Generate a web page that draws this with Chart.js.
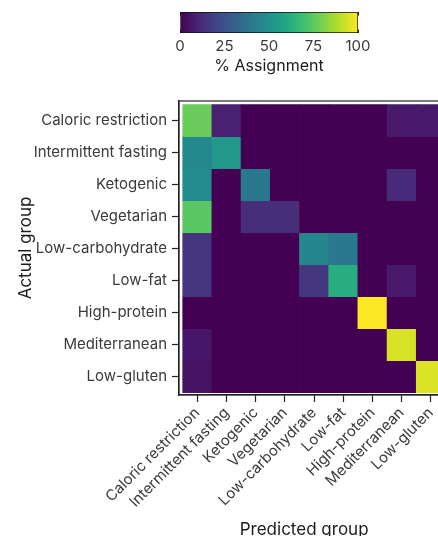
<!DOCTYPE html>
<html>
<head>
<meta charset="utf-8">
<script src="https://cdn.jsdelivr.net/npm/chart.js@4.4.1/dist/chart.umd.min.js"></script>
<style>
  html, body { margin: 0; padding: 0; background: #fff; }
  body { width: 438px; height: 536px; overflow: hidden; position: relative; }
  canvas { position: absolute; left: 0; top: 0; }
</style>
</head>
<body>
<canvas id="heatmap" width="470" height="550"></canvas>
<canvas id="colorbar" width="438" height="80"></canvas>
<script>
// diet groups, same order on both axes
const dietGroups = ['Caloric restriction', 'Intermittent fasting', 'Ketogenic', 'Vegetarian',
  'Low-carbohydrate', 'Low-fat', 'High-protein', 'Mediterranean', 'Low-gluten'];

// % assignment: one row per actual group, one value per predicted group
const caloricRestriction  = [77, 9, 0, 0, 0, 0, 0, 7, 7];
const intermittentFasting = [47, 53, 0, 0, 0, 0, 0, 0, 0];
const ketogenic           = [48, 0, 40, 0, 0, 0, 0, 12, 0];
const vegetarian          = [74, 0, 13, 13, 0, 0, 0, 0, 0];
const lowCarbohydrate     = [15, 0, 0, 0, 45, 40, 0, 0, 0];
const lowFat              = [15, 0, 0, 0, 16, 62, 0, 7, 0];
const highProtein         = [0, 0, 0, 0, 0, 0, 100, 0, 0];
const mediterranean       = [6, 0, 0, 0, 0, 0, 0, 94, 0];
const lowGluten           = [5, 0, 0, 0, 0, 0, 0, 0, 95];

const colorbarTicks = [0, 25, 50, 75, 100];

const rows = [caloricRestriction, intermittentFasting, ketogenic, vegetarian,
  lowCarbohydrate, lowFat, highProtein, mediterranean, lowGluten];

// viridis, 11 stops
const viridis = ['#440154', '#482475', '#414487', '#355f8d', '#2a788e', '#21918c',
  '#22a884', '#44bf70', '#7ad151', '#bddf26', '#fde725'];

function hexToRgb(h) {
  return [1, 3, 5].map(i => parseInt(h.substr(i, 2), 16));
}

function viridisColor(pct) {
  const t = Math.max(0, Math.min(1, pct / 100)) * (viridis.length - 1);
  const i = Math.min(Math.floor(t), viridis.length - 2);
  const f = t - i;
  const a = hexToRgb(viridis[i]), b = hexToRgb(viridis[i + 1]);
  const c = a.map((v, k) => Math.round(v + (b[k] - v) * f));
  return `rgb(${c[0]}, ${c[1]}, ${c[2]})`;
}

const fontFamily = 'Inter, "Noto Sans", sans-serif';
const tickColor = '#3a3a3a';
const inkColor = '#1c1c1c';

// top/right sides of the frame
const framePlugin = {
  id: 'frame',
  afterDraw(chart) {
    const { ctx, chartArea: a } = chart;
    ctx.save();
    ctx.strokeStyle = '#222';
    ctx.lineWidth = 1.2;
    ctx.strokeRect(a.left, a.top, a.right - a.left, a.bottom - a.top);
    ctx.restore();
  }
};

const datasets = rows.map((row, r) => ({
  label: dietGroups[r],
  data: row.map((v, c) => ({ x: c + 0.5, y: [r, r + 1] })),
  backgroundColor: row.map(v => viridisColor(v)),
  borderWidth: 0,
  barPercentage: 1,
  categoryPercentage: 1,
  grouped: false
}));

new Chart(document.getElementById('heatmap'), {
  type: 'bar',
  data: { datasets },
  plugins: [framePlugin],
  options: {
    responsive: false,
    animation: false,
    layout: { padding: { top: 101, left: 0, right: 21.6, bottom: 0 } },
    plugins: {
      legend: { display: false },
      tooltip: { enabled: false }
    },
    scales: {
      x: {
        type: 'linear',
        offset: false,
        min: -0.127,
        max: 9.1,
        afterBuildTicks: s => { s.ticks = dietGroups.map((_, i) => ({ value: i + 0.5 })); },
        afterFit: s => { s.height = 155; },
        ticks: {
          autoSkip: false,
          minRotation: 45,
          maxRotation: 45,
          padding: 2,
          color: tickColor,
          font: { family: fontFamily, size: 15 },
          callback: (v, i) => dietGroups[i]
        },
        grid: { offset: false, drawOnChartArea: false, tickLength: 7, tickColor: '#222', tickWidth: 1.2 },
        border: { color: '#222', width: 1.2 },
        title: {
          display: true,
          text: 'Predicted group\u00a0\u00a0\u00a0\u00a0',
          color: inkColor,
          font: { family: fontFamily, size: 17 },
          padding: { top: 0, bottom: 10 }
        }
      },
      y: {
        type: 'linear',
        reverse: true,
        min: -0.115,
        max: 9.07,
        afterBuildTicks: s => { s.ticks = dietGroups.map((_, i) => ({ value: i + 0.5 })); },
        afterFit: s => { s.width = 179; },
        ticks: {
          autoSkip: false,
          padding: 5,
          color: tickColor,
          font: { family: fontFamily, size: 15 },
          callback: (v, i) => dietGroups[i]
        },
        grid: { drawOnChartArea: false, tickLength: 7, tickColor: '#222', tickWidth: 1.2 },
        border: { color: '#222', width: 1.2 },
        title: {
          display: true,
          text: 'Actual group',
          color: inkColor,
          font: { family: fontFamily, size: 17 },
          padding: { top: 16, bottom: 0 }
        }
      }
    }
  }
});

// colour bar
new Chart(document.getElementById('colorbar'), {
  type: 'bar',
  data: {
    labels: ['% Assignment'],
    datasets: [{
      data: [[colorbarTicks[0], colorbarTicks[colorbarTicks.length - 1]]],
      backgroundColor(ctx) {
        const a = ctx.chart.chartArea;
        if (!a) return viridis[0];
        const g = ctx.chart.ctx.createLinearGradient(a.left, 0, a.right, 0);
        viridis.forEach((c, i) => g.addColorStop(i / (viridis.length - 1), c));
        return g;
      },
      borderColor: '#111',
      borderWidth: 1,
      borderSkipped: false,
      barPercentage: 1,
      categoryPercentage: 1
    }]
  },
  options: {
    indexAxis: 'y',
    responsive: false,
    animation: false,
    layout: { padding: { top: 12, left: 180, right: 80, bottom: 0 } },
    plugins: {
      legend: { display: false },
      tooltip: { enabled: false }
    },
    scales: {
      y: { display: false },
      x: {
        min: colorbarTicks[0],
        max: colorbarTicks[colorbarTicks.length - 1],
        z: 1,
        afterBuildTicks: s => { s.ticks = colorbarTicks.map(v => ({ value: v })); },
        afterFit: s => { s.height = 47; },
        ticks: {
          padding: 4,
          color: tickColor,
          font: { family: fontFamily, size: 15 }
        },
        grid: { drawTicks: false, color: '#222', lineWidth: 1 },
        border: { display: false, dash: [3.5, 14] },
        title: {
          display: true,
          text: '% Assignment',
          color: inkColor,
          font: { family: fontFamily, size: 16 },
          padding: { top: 0, bottom: 4 }
        }
      }
    }
  }
});
</script>
</body>
</html>
